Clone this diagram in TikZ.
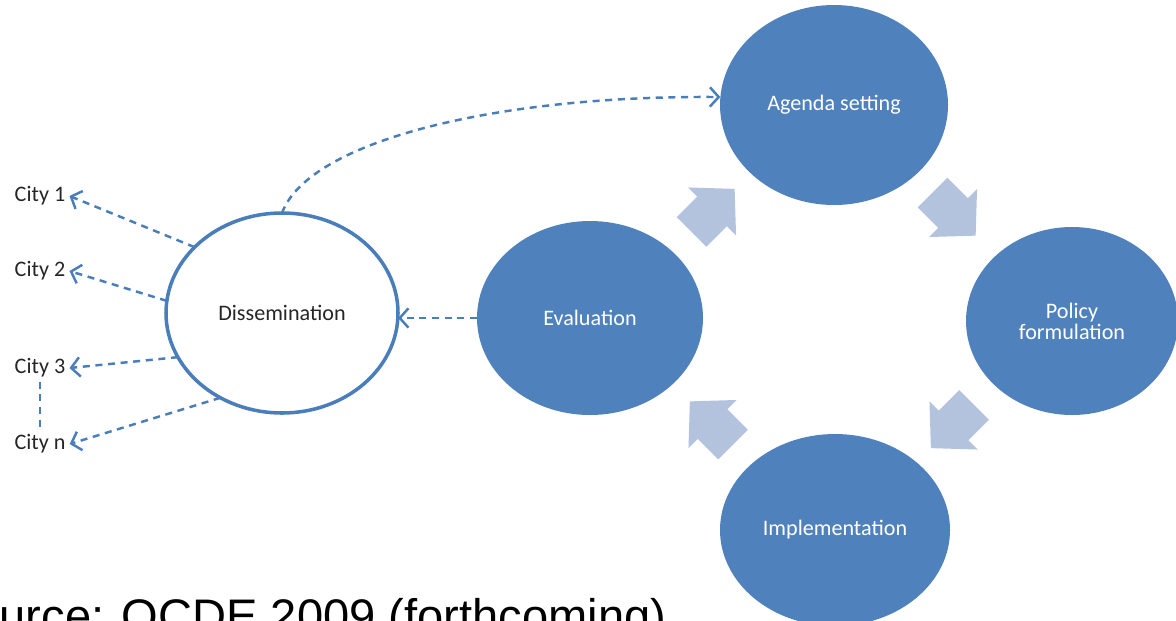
\documentclass[tikz,border=0pt]{standalone}
\usepackage{fontspec}
\setmainfont{Carlito}
\newfontfamily\sourcefont{Liberation Sans}
\usepackage{tikz}
\usetikzlibrary{calc,positioning,arrows.meta,shapes.geometric}

\definecolor{stageblue}{HTML}{4F81BD}
\definecolor{linkblue}{HTML}{4A7EBB}
\definecolor{fatblue}{HTML}{B3C3DE}
\definecolor{citygray}{HTML}{262626}

\tikzset{
	stage/.style={ellipse, fill=stageblue, text=white, inner sep=0pt, outer sep=0pt, align=center,
		minimum width=2.28cm, minimum height=1.96cm, font=\fontsize{6.3}{6}\selectfont},
	spread/.style={ellipse, draw=linkblue, line width=1pt, fill=white, text=citygray, inner sep=0pt, outer sep=0pt,
		minimum width=2.32cm, minimum height=2cm, font=\fontsize{6.3}{6}\selectfont},
	city/.style={text=citygray, inner sep=1pt, font=\fontsize{6.3}{6}\selectfont},
	link/.style={draw=linkblue, line width=0.7pt, dash pattern=on 2pt off 1.6pt, -{Straight Barb[length=2.5pt,width=5.5pt]}},
	fatarrow/.pic={\fill[fatblue] (-0.29,-0.21) -- (0,-0.21) -- (0,-0.34) -- (0.32,0) -- (0,0.34) -- (0,0.21) -- (-0.29,0.21) -- cycle;}
}

\begin{document}
\begin{tikzpicture}
		\useasboundingbox (0,0) rectangle (11.76,6.2);
		\clip (0,0) rectangle (11.76,6.2);

		\node[stage, minimum height=2cm] (agenda) at (8.34,5.15) {Agenda setting};
		\node[stage, minimum width=2.12cm, minimum height=1.88cm] (policy) at (10.72,2.99) {Policy\\formulation};
		\node[stage, minimum width=2.3cm, minimum height=1.92cm] (impl) at (8.35,0.90) {Implementation};
		\node[stage, minimum width=2.26cm, minimum height=1.94cm] (eval) at (5.90,3.02) {Evaluation};
		\node[spread] (diss) at (2.82,3.07) {Dissemination};

		\pic[rotate=45] at ($(eval)!.5!(agenda)$) {fatarrow};
		\pic[rotate=-45] at ($(agenda)!.5!(policy)$) {fatarrow};
		\pic[rotate=-135] at ($(policy)!.5!(impl)$) {fatarrow};
		\pic[rotate=135] at ($(impl)!.5!(eval)$) {fatarrow};

		\node[city] (city1) at (0.40,4.24) {City 1};
		\node[city] (city2) at (0.40,3.49) {City 2};
		\node[city] (city3) at (0.40,2.52) {City 3};
		\node[city] (cityn) at (0.40,1.76) {City n};

		\draw[link] (diss.143) -- (city1.east);
		\draw[link] (diss.174) -- (city2.east);
		\draw[link] (diss.203) -- (city3.east);
		\draw[link] (diss.234) -- (cityn.east);
		\draw[link, -] (city3.south) -- (cityn.north);

		\draw[link] (eval.west) -- (diss.east |- eval.west);
		\draw[link] (diss.north) .. controls +(0.27,0.73) and +(-2.2,0.02) .. (agenda.176);

		\node[anchor=base west, inner sep=0pt, font=\sourcefont\fontsize{13.4}{16}\selectfont] (source) at (-0.01,-0.12) {urce: OCDE 2009 (forthcoming)};
	\end{tikzpicture}
\end{document}
